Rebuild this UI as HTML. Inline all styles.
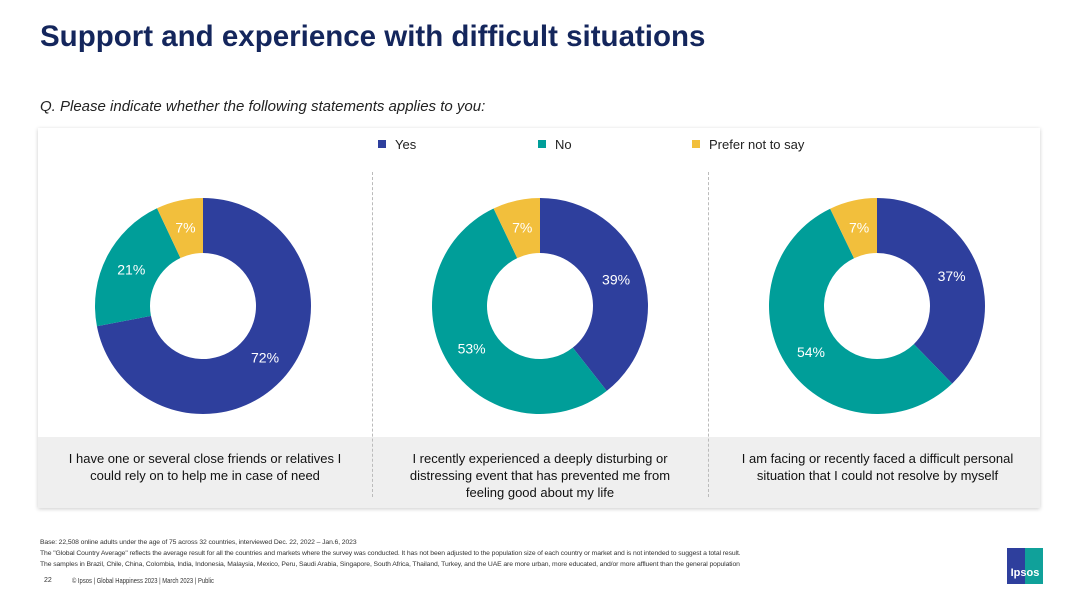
<!DOCTYPE html>
<html><head><meta charset="utf-8"><style>
body{margin:0;width:1080px;height:608px;background:#fff;font-family:"Liberation Sans",sans-serif;position:relative;overflow:hidden}
.a{position:absolute}
</style></head><body>
<div class="a" style="left:40px;top:20px;font-size:29.5px;font-weight:bold;color:#14265c">Support and experience with difficult situations</div>
<div class="a" style="left:40px;top:98px;font-size:15px;font-style:italic;color:#222">Q. Please indicate whether the following statements applies to you:</div>
<div class="a" style="left:38px;top:128px;width:1002px;height:380px;background:#fff;box-shadow:0 1px 4px rgba(0,0,0,0.2)"></div>
<div class="a" style="left:38px;top:437px;width:1002px;height:71px;background:#efefef"></div>
<div class="a" style="left:372px;top:172px;height:325px;border-left:1px dashed #bbb"></div>
<div class="a" style="left:708px;top:172px;height:325px;border-left:1px dashed #bbb"></div>
<svg class="a" style="left:0;top:0" width="1080" height="608" id="chart"></svg>
<div class="a" style="left:55px;top:450px;width:300px;text-align:center;font-size:13px;line-height:17px;color:#111">I have one or several close friends or relatives I could rely on to help me in case of need</div>
<div class="a" style="left:395px;top:450px;width:290px;text-align:center;font-size:13px;line-height:17px;color:#111">I recently experienced a deeply disturbing or distressing event that has prevented me from feeling good about my life</div>
<div class="a" style="left:730px;top:450px;width:295px;text-align:center;font-size:13px;line-height:17px;color:#111">I am facing or recently faced a difficult personal situation that I could not resolve by myself</div>
<div class="a" style="left:40px;top:537px;font-size:6.8px;line-height:11px;color:#333;white-space:nowrap;letter-spacing:-0.1px">Base: 22,508 online adults under the age of 75 across 32 countries, interviewed Dec. 22, 2022 – Jan.6, 2023<br>The "Global Country Average" reflects the average result for all the countries and markets where the survey was conducted. It has not been adjusted to the population size of each country or market and is not intended to suggest a total result.<br>The samples in Brazil, Chile, China, Colombia, India, Indonesia, Malaysia, Mexico, Peru, Saudi Arabia, Singapore, South Africa, Thailand, Turkey, and the UAE are more urban, more educated, and/or more affluent than the general population</div>
<div class="a" style="left:44px;top:577px;font-size:7px;color:#333">22</div>
<div class="a" style="left:72px;top:576px;font-size:7.5px;color:#333;transform:scaleX(0.78);transform-origin:left">© Ipsos | Global Happiness 2023 | March 2023 | Public</div>
<div class="a" style="left:1007px;top:548px;width:36px;height:36px;background:linear-gradient(90deg,#2e3f9d 50%,#10a19a 50%);color:#fff;font-size:11px;font-weight:bold;text-align:center;line-height:50px">Ipsos</div>
<script>
const categories=["Yes","No","Prefer not to say"];
const colors=["#2e3f9d","#009e99","#f2bf3c"];
const series1=[72,21,7];
const series2=[39,53,7];
const series3=[37,54,7];
const allSeries=[series1,series2,series3];
const centersX=[203,540,877];
const svg=document.getElementById('chart');
const NS='http://www.w3.org/2000/svg';
function mk(t,a){const e=document.createElementNS(NS,t);for(const k in a)e.setAttribute(k,a[k]);svg.appendChild(e);return e;}
const R=108,r=53,cy=306;
function pt(cx,rad,ang){return [cx+rad*Math.sin(ang),cy-rad*Math.cos(ang)];}
allSeries.forEach((vals,ci)=>{
  const cx=centersX[ci];const tot=vals.reduce((a,b)=>a+b,0);let a0=0;
  vals.forEach((v,i)=>{
    const a1=a0+v/tot*2*Math.PI;const lg=(a1-a0)>Math.PI?1:0;
    const p1=pt(cx,R,a0),p2=pt(cx,R,a1),p3=pt(cx,r,a1),p4=pt(cx,r,a0);
    const p=mk('path',{d:`M${p1}A${R},${R} 0 ${lg} 1 ${p2}L${p3}A${r},${r} 0 ${lg} 0 ${p4}Z`,fill:colors[i]});
    
    
    const m=(a0+a1)/2;const lp=pt(cx,(R+r)/2,m);
    const t=mk('text',{x:lp[0],y:lp[1]+5,'text-anchor':'middle','font-size':14,fill:'#fff','font-family':'Liberation Sans, sans-serif'});
    t.textContent=v+'%';
    
    
    a0=a1;
  });
});
const legX=[378,538,692];
categories.forEach((c,i)=>{
  const s=mk('rect',{x:legX[i],y:140,width:8,height:8,fill:colors[i]});
  
  
  const t=mk('text',{x:legX[i]+17,y:149,'font-size':13,fill:'#222','font-family':'Liberation Sans, sans-serif'});
  t.textContent=c;
  
  
});
</script>
</body></html>
